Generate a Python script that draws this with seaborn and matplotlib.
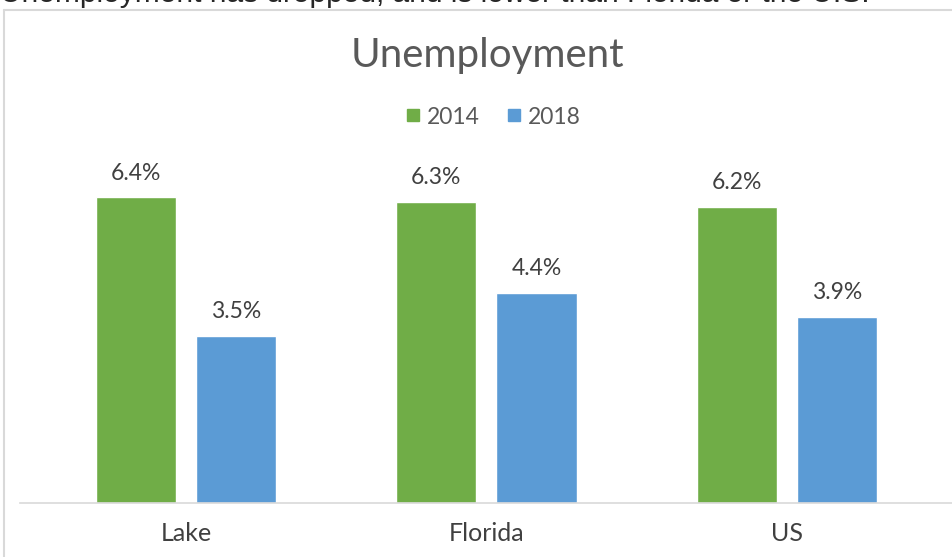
import pandas as pd
import matplotlib.pyplot as plt
import seaborn as sns
from matplotlib.lines import Line2D

# chart data
regions = ['Lake', 'Florida', 'US']
rate_2014 = [6.4, 6.3, 6.2]
rate_2018 = [3.5, 4.4, 3.9]
years = ['2014', '2018']
colors = ['#70AD47', '#5B9BD5']

df = pd.DataFrame({
    'region': regions * 2,
    'year': [years[0]] * 3 + [years[1]] * 3,
    'rate': rate_2014 + rate_2018,
})

sns.set_theme(style='white')
plt.rcParams['font.family'] = ['Lato', 'DejaVu Sans']

W, H = 952, 557
fig = plt.figure(figsize=(W / 100, H / 100), dpi=100)

# plot area in pixels: left 20, right 952, top 121, bottom 503
ax = fig.add_axes([20 / W, (H - 503) / H, 932 / W, (503 - 121) / H])
sns.barplot(data=df, x='region', y='rate', hue='year', palette=colors,
            width=2 / 3, gap=0.2, saturation=1, ax=ax, legend=False)

ax.set_xlim(-0.552, 2.549)
ax.set_ylim(0, 8)
for c in ax.containers:
    ax.bar_label(c, fmt='%.1f%%', padding=10, fontsize=16.5, color='#404040')

ax.set_xlabel('')
ax.set_ylabel('')
ax.set_yticks([])
ax.tick_params(axis='x', length=0, labelsize=18, labelcolor='#404040', pad=14)
for s in ['top', 'right', 'left']:
    ax.spines[s].set_visible(False)
ax.spines['bottom'].set_color('#D9D9D9')
ax.spines['bottom'].set_linewidth(1.2)

# title and legend
fig.text(487 / W, 1 - 56 / H, 'Unemployment', ha='center', va='center',
         fontsize=29, color='#595959')
handles = [Line2D([], [], marker='s', linestyle='', markersize=8.5,
                  color=col) for col in colors]
fig.legend(handles, years, loc='center', bbox_to_anchor=(490 / W, 1 - 117 / H),
           ncol=2, frameon=False, fontsize=16.5, handletextpad=0.0,
           handlelength=1.2, columnspacing=0.9, labelcolor='#595959')

# chart frame (light gray border, partly cut off)
fig.add_artist(Line2D([4 / W, 1], [1 - 10 / H, 1 - 10 / H], color='#D9D9D9', lw=1.5))
fig.add_artist(Line2D([4 / W, 4 / W], [0, 1 - 10 / H], color='#D9D9D9', lw=1.5))

# slide heading above, clipped by the crop
fig.text(0, 1 - 2 / H, 'Unemployment has dropped, and is lower than Florida or the U.S.',
         ha='left', va='baseline', fontsize=21.5, family='Liberation Sans', color='#262626')

fig.savefig('out.png', dpi=100)
